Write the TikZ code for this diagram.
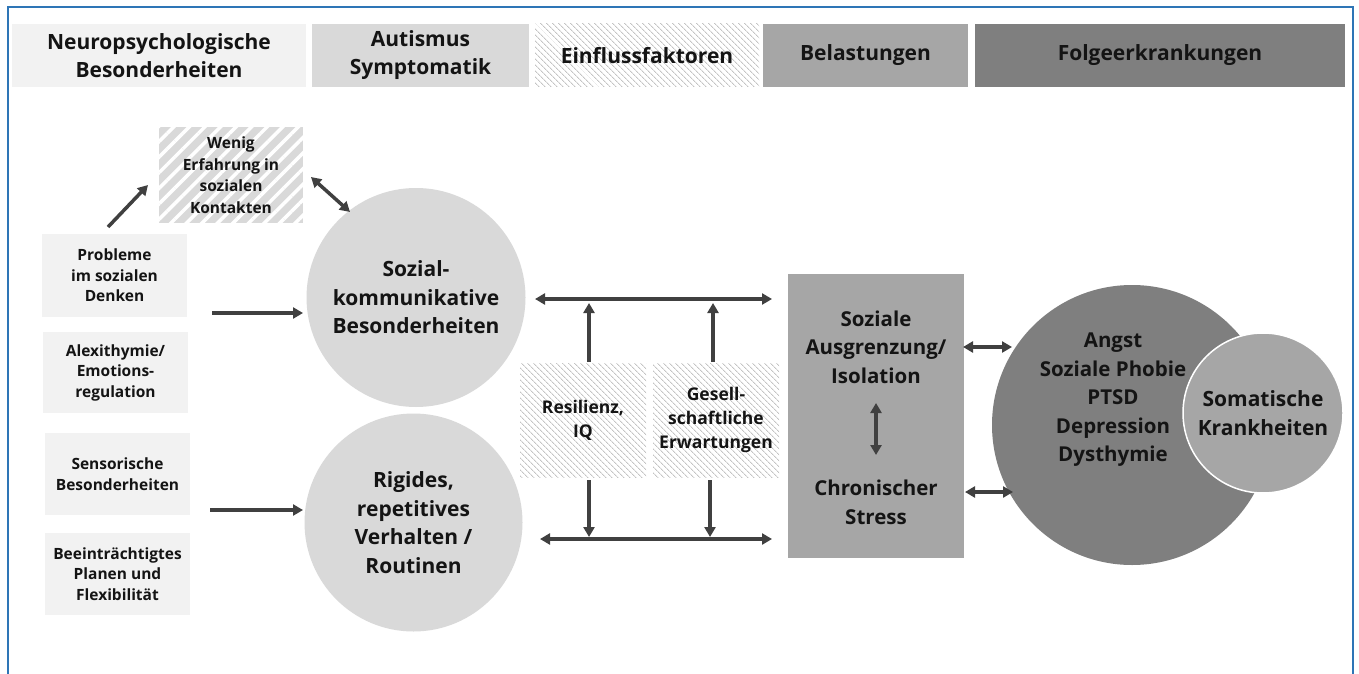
\documentclass[tikz,border=0pt]{standalone}
\usepackage{fontspec}
\setmainfont{Open Sans}
\usetikzlibrary{arrows.meta,patterns.meta}
\definecolor{frameblue}{HTML}{2E75B6}
\definecolor{ga}{HTML}{F2F2F2}
\definecolor{gb}{HTML}{D9D9D9}
\definecolor{gc}{HTML}{A6A6A6}
\definecolor{gd}{HTML}{7F7F7F}
\definecolor{arr}{HTML}{404040}
\definecolor{txt}{HTML}{141414}
\definecolor{hatchc}{HTML}{C4C4C4}
\tikzset{
  base/.style={rectangle, inner sep=0pt, align=center, text=txt},
  hdr/.style={base, minimum height=63pt, font=\fontsize{21}{28}\selectfont\bfseries},
  leftbox/.style={base, fill=ga, minimum width=145pt, font=\fontsize{15.5}{20.5}\selectfont\bfseries},
  finehatch/.style={pattern={Lines[angle=-45,distance=4pt,line width=1pt]}, pattern color=hatchc},
  widehatch/.style={preaction={fill=gb}, pattern={Lines[angle=45,distance=11pt,line width=3.5pt]}, pattern color=white},
  bigtext/.style={base, font=\fontsize{20.5}{28.5}\selectfont\bfseries},
  midtext/.style={base, font=\fontsize{17.5}{24}\selectfont\bfseries},
  circ/.style={circle, inner sep=0pt, align=center, text=txt, font=\fontsize{21}{28.5}\selectfont\bfseries},
  arw/.style={draw=arr, line width=3.5pt, -{Triangle[length=10pt,width=11pt]}},
  darw/.style={draw=arr, line width=3.5pt, {Triangle[length=10pt,width=11pt]}-{Triangle[length=10pt,width=11pt]}},
}
\begin{document}
\begin{tikzpicture}[x=1pt,y=-1pt]
\useasboundingbox (0,0) rectangle (1359,674);
\fill[white] (0,0) rectangle (1359,674);
\draw[frameblue, line width=2pt] (8,680) -- (8,7) -- (1353,7) -- (1353,680);

% header row
\node[hdr, fill=ga, minimum width=294pt] (hneu) at (159,55.5) {Neuropsychologische\\Besonderheiten};
\node[hdr, fill=gb, minimum width=217pt] (haut) at (420.5,55.5) {Autismus\\Symptomatik};
\node[hdr, finehatch, minimum width=224pt] (hein) at (647,55.5) {Einflussfaktoren};
\node[hdr, fill=gc, minimum width=205pt] (hbel) at (865.5,55.5) {Belastungen};
\node[hdr, fill=gd, minimum width=370pt] (hfol) at (1160,55.5) {Folgeerkrankungen};

% left column
\node[leftbox, minimum height=83pt] (p1) at (114.5,275.5) {Probleme\\im sozialen\\Denken};
\node[leftbox, minimum height=81pt] (p2) at (115.5,372.5) {Alexithymie/\\Emotions-\\regulation};
\node[leftbox, minimum height=82pt] (p3) at (117.5,474) {Sensorische\\Besonderheiten};
\node[leftbox, minimum height=82pt] (p4) at (117.5,574) {Beeinträchtigtes\\Planen und\\Flexibilität};

\node[base, widehatch, minimum width=144pt, minimum height=96pt, font=\fontsize{15.5}{21.5}\selectfont\bfseries] (wen) at (231,175) {Wenig\\Erfahrung in\\sozialen\\Kontakten};

% circles
\node[circ, fill=gb, minimum size=219pt] (soz) at (416,297.5) {Sozial-\\kommunikative\\Besonderheiten};
\node[circ, fill=gb, minimum size=218pt] (rig) at (413.5,522.5) {Rigides,\\repetitives\\Verhalten /\\Routinen};

% influence boxes
\node[midtext, finehatch, minimum width=126pt, minimum height=114pt] (res) at (583,420) {Resilienz,\\IQ};
\node[midtext, finehatch, minimum width=126pt, minimum height=114pt] (ges) at (716,420) {Gesell-\\schaftliche\\Erwartungen};

% burden box
\node[base, fill=gc, minimum width=176pt, minimum height=284pt] (bel) at (876,416) {};
\node[bigtext] (iso) at (876,347) {Soziale\\Ausgrenzung/\\Isolation};
\node[bigtext] (str) at (876,502.5) {Chronischer\\Stress};

% consequences
\node[circle, fill=gd, minimum size=280pt, inner sep=0pt] (dis) at (1132,425) {};
\node[bigtext] (distxt) at (1113,400) {Angst\\Soziale Phobie\\PTSD\\Depression\\Dysthymie};
\node[circ, fill=gc, draw=white, line width=1.5pt, minimum size=160pt] (som) at (1263,413) {Somatische\\Krankheiten};

% coordinates for connector ends
\coordinate (wA) at (108,227);
\coordinate (wB) at (148,185);
\coordinate (wC) at (311,177);
\coordinate (wD) at (350,212);
\coordinate (l1) at (212,313);
\coordinate (l1e) at (303,313);
\coordinate (l2) at (210,510);
\coordinate (l2e) at (303,510);
\coordinate (tL) at (535,299);
\coordinate (tR) at (772,299);
\coordinate (bL) at (540,539);
\coordinate (bR) at (772,539);
\coordinate (u1) at (589,303);
\coordinate (u2) at (713,303);
\coordinate (d1) at (589,537);
\coordinate (d2) at (710,537);
\coordinate (vT) at (876,403);
\coordinate (vB) at (876,455);
\coordinate (r1a) at (963,347);
\coordinate (r1b) at (1012,347);
\coordinate (r2a) at (965,492);
\coordinate (r2b) at (1013,492);

% connectors
\draw[arw] (wA) -- (wB);
\draw[darw] (wC) -- (wD);
\draw[arw] (l1) -- (l1e);
\draw[arw] (l2) -- (l2e);
\draw[darw] (tL) -- (tR);
\draw[darw] (bL) -- (bR);
\draw[arw] (res.north -| u1) ++(0,-1) -- (u1);
\draw[arw] (ges.north -| u2) ++(0,-1) -- (u2);
\draw[arw] (res.south -| d1) ++(0,3) -- (d1);
\draw[arw] (ges.south -| d2) ++(0,3) -- (d2);
\draw[darw] (vT) -- (vB);
\draw[darw] (r1a) -- (r1b);
\draw[darw] (r2a) -- (r2b);
\end{tikzpicture}
\end{document}
